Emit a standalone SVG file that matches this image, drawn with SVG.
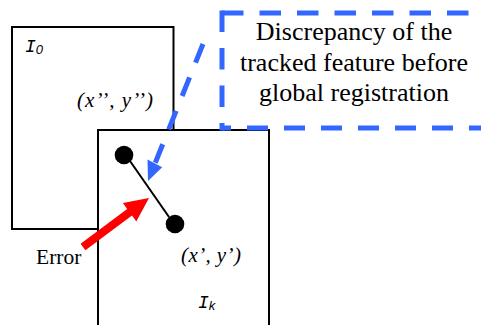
<svg xmlns="http://www.w3.org/2000/svg" width="481" height="325" viewBox="0 0 481 325">
<style>
.frame{fill:#fff;stroke:#000;stroke-width:2}
.serif{font-family:"Liberation Serif","Times New Roman",serif;fill:#000}
.it{font-style:italic}
.mono{font-family:"Liberation Mono","Courier New",monospace;font-style:italic;fill:#000}
.sub{font-family:"Liberation Sans",Arial,sans-serif;font-style:italic}
.blue{fill:none;stroke:#3366ff;stroke-width:5}
</style>
<rect width="481" height="325" fill="#fff"/>
<g id="frame-I0">
<rect class="frame" x="12" y="27" width="161.5" height="202"/>
<text class="mono" x="25" y="52" font-size="18">I<tspan class="sub" font-size="13" dy="2">0</tspan></text>
<text class="serif it" x="77" y="107" font-size="21" textLength="76" lengthAdjust="spacing">(x’’, y’’)</text>
</g>
<g id="frame-Ik">
<rect class="frame" x="98" y="130" width="171" height="210"/>
<text class="serif it" x="181" y="262" font-size="21" textLength="60" lengthAdjust="spacing">(x’, y’)</text>
<text class="mono" x="198" y="308" font-size="18">I<tspan class="sub" font-size="13" dy="2">k</tspan></text>
</g>
<g id="note">
<path class="blue" d="M222,13 H490" stroke-dasharray="21.5 16"/>
<path class="blue" d="M222,10.5 V130.5" stroke-dasharray="21.5 16"/>
<path class="blue" d="M222,128 H490" stroke-dasharray="21 16" stroke-dashoffset="12"/>
<text class="serif" font-size="26" text-anchor="middle"><tspan x="354" y="40">Discrepancy of the</tspan><tspan x="354" y="71">tracked feature before</tspan><tspan x="354" y="101">global registration</tspan></text>
</g>
<g id="points">
<circle cx="124" cy="155" r="9.3" fill="#000"/>
<circle cx="175" cy="224" r="9.3" fill="#000"/>
</g>
<g id="error-label">
<text class="serif" x="36" y="264" font-size="21.5">Error</text>
</g>
<g id="connectors">
<line x1="130" y1="161" x2="169" y2="217" stroke="#000" stroke-width="2"/>
<path class="blue" d="M203,44 L155,163.5" stroke-dasharray="20 16"/>
<polygon points="148,181 147.5,159.5 162.2,167.3" fill="#3366ff"/>
<polygon points="80.6,243.8 127.2,209 122.9,203 149,198 136.3,221.4 132,215.4 85.4,250.2" fill="#ff0000"/>
</g>
</svg>
